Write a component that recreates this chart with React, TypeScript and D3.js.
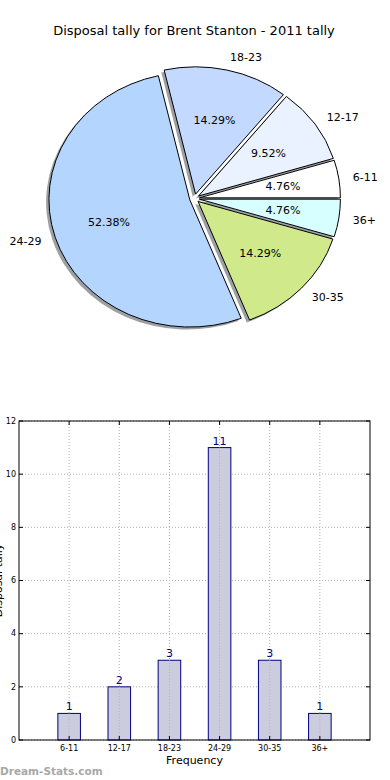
import React from 'react';
import * as d3 from 'd3';

// pie data (counter-clockwise from 3 o'clock, like matplotlib)
const ageGroups = ['6-11', '12-17', '18-23', '24-29', '30-35', '36+'];
const tallies = [1, 2, 3, 11, 3, 1];
const sliceColors = ['#ffffff', '#eaf1ff', '#c4d9ff', '#b4d5fe', '#d0ea8b', '#d8ffff'];
const yTicks = [0, 2, 4, 6, 8, 10, 12];

const W = 390;
const H = 780;

const font = 'DejaVu Sans, sans-serif';

const Pie = () => {
    const cx = 194.5;
    const cy = 198.5;
    const rx = 141;
    const ry = 127.3;
    const explode = 0.035;

    const total = d3.sum(tallies);
    const arcs = d3.pie<number>()
        .sort(null)
        .startAngle(Math.PI / 2)
        .endAngle(Math.PI / 2 - 2 * Math.PI)(tallies);

    // unit arc, stretched to an ellipse via transform
    const arc = d3.arc<d3.PieArcDatum<number>>().innerRadius(0).outerRadius(1);

    const off = (a: d3.PieArcDatum<number>, k: number) => {
        const m = (a.startAngle + a.endAngle) / 2;
        return [Math.sin(m) * k, -Math.cos(m) * k];
    };

    return (
        <g>
            {/* shadows below every wedge */}
            {arcs.map((a, i) => {
                const [ox, oy] = off(a, explode);
                return (
                    <path key={'s' + i}
                        d={arc(a) || ''}
                        transform={`translate(${cx + ox * rx - 0.02 * rx},${cy + oy * ry + 0.02 * ry}) scale(${rx},${ry})`}
                        fill="#3a3f4a" fillOpacity={0.5} />
                );
            })}
            {arcs.map((a, i) => {
                const [ox, oy] = off(a, explode);
                return (
                    <path key={'w' + i}
                        d={arc(a) || ''}
                        transform={`translate(${cx + ox * rx},${cy + oy * ry}) scale(${rx},${ry})`}
                        fill={sliceColors[i]} stroke="#000" strokeWidth={1}
                        vectorEffect="non-scaling-stroke" />
                );
            })}
            {arcs.map((a, i) => {
                const [lx, ly] = off(a, 1.1 + explode);
                const [px, py] = off(a, 0.6 + explode);
                return (
                    <g key={'l' + i} fontFamily={font} fontSize={11} fill="#000">
                        <text x={cx + lx * rx} y={cy + ly * ry} dy="0.35em"
                            textAnchor={lx > 0 ? 'start' : 'end'}>{ageGroups[i]}</text>
                        <text x={cx + px * rx} y={cy + py * ry} dy="0.35em"
                            textAnchor="middle">{(tallies[i] / total * 100).toFixed(2) + '%'}</text>
                    </g>
                );
            })}
        </g>
    );
};

const Bars = () => {
    const left = 19, right = 370, top = 421, bottom = 740;
    const x = d3.scaleLinear().domain([0, ageGroups.length + 1]).range([left, right]);
    const y = d3.scaleLinear().domain([0, 12]).range([bottom, top]);
    const barW = 0.45;

    return (
        <g fontFamily={font}>
            {/* grid */}
            {yTicks.map(t => (
                <line key={'gy' + t} x1={left} x2={right} y1={y(t)} y2={y(t)}
                    stroke="#b0b0b0" strokeDasharray="1,2" />
            ))}
            {ageGroups.map((g, i) => (
                <line key={'gx' + g} x1={x(i + 1)} x2={x(i + 1)} y1={top} y2={bottom}
                    stroke="#b0b0b0" strokeDasharray="1,2" />
            ))}
            {tallies.map((v, i) => (
                <g key={'b' + i}>
                    <rect x={x(i + 1 - barW / 2)} y={y(v)} width={x(barW) - x(0)} height={bottom - y(v)}
                        fill="#ccccdf" stroke="#000080" strokeWidth={1} />
                    <text x={x(i + 1)} y={y(v) - 3} textAnchor="middle" fontSize={11} fill="#000080">{v}</text>
                </g>
            ))}
            {/* grid lines show through bars */}
            {ageGroups.map((g, i) => (
                <line key={'gx2' + g} x1={x(i + 1)} x2={x(i + 1)} y1={y(tallies[i])} y2={bottom}
                    stroke="#b0b0b0" strokeDasharray="1,2" />
            ))}
            <rect x={left} y={top} width={right - left} height={bottom - top} fill="none" stroke="#000" strokeWidth={1} />
            {yTicks.map(t => (
                <g key={'ty' + t}>
                    <line x1={left} x2={left + 4} y1={y(t)} y2={y(t)} stroke="#000" />
                    <line x1={right - 4} x2={right} y1={y(t)} y2={y(t)} stroke="#000" />
                    <text x={left - 3} y={y(t)} dy="0.35em" textAnchor="end" fontSize={8}>{t}</text>
                </g>
            ))}
            {ageGroups.map((g, i) => (
                <g key={'tx' + g}>
                    <line x1={x(i + 1)} x2={x(i + 1)} y1={bottom} y2={bottom - 4} stroke="#000" />
                    <line x1={x(i + 1)} x2={x(i + 1)} y1={top} y2={top + 4} stroke="#000" />
                    <text x={x(i + 1)} y={bottom + 11} textAnchor="middle" fontSize={8}>{g}</text>
                </g>
            ))}
            <text x={(left + right) / 2} y={bottom + 24} textAnchor="middle" fontSize={11}>Frequency</text>
            <text transform={`translate(2,${(top + bottom) / 2}) rotate(-90)`} textAnchor="middle" fontSize={11}>Disposal tally</text>
        </g>
    );
};

const App = () => {
    return (
        <svg width={W} height={H} style={{ position: 'absolute', left: 0, top: 0, background: '#fff' }}>
            <text x={194} y={35} textAnchor="middle" fontFamily={font} fontSize={13}>
                Disposal tally for Brent Stanton - 2011 tally
            </text>
            <Pie />
            <Bars />
            <text x={0} y={775} fontFamily={font} fontSize={10.5} fontWeight="bold" fill="#a8a8a8">Dream-Stats.com</text>
        </svg>
    );
};

export default App;
